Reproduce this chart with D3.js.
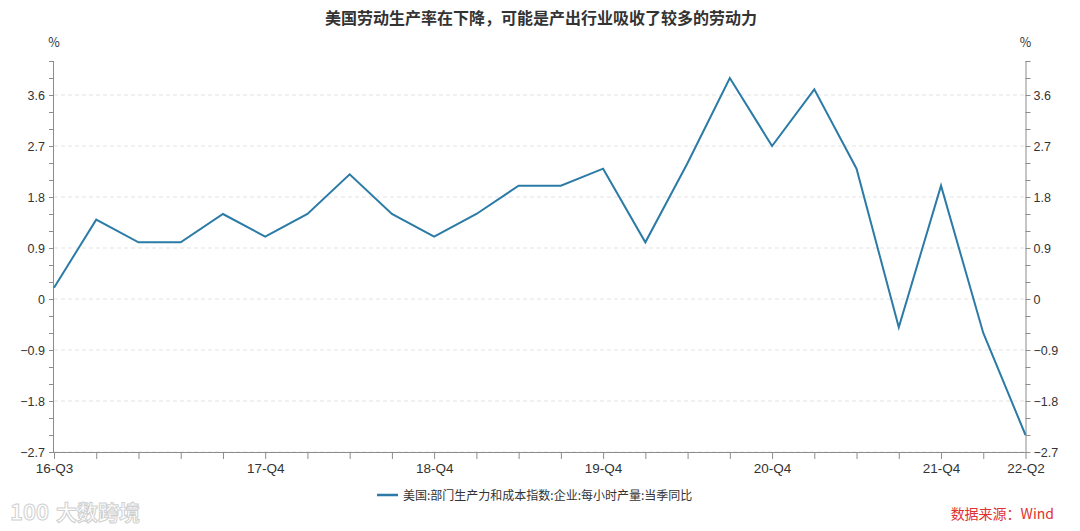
<!DOCTYPE html>
<html><head><meta charset="utf-8">
<script src="https://cdn.jsdelivr.net/npm/d3@7/dist/d3.min.js"></script>
<style>
body{margin:0;background:#fff;}
svg{display:block;font-family:"Noto Sans CJK SC","Noto Sans",sans-serif;}
</style></head>
<body><svg id="c" width="1080" height="531"></svg>
<script>
const quarters = ["16-Q3","16-Q4","17-Q1","17-Q2","17-Q3","17-Q4","18-Q1","18-Q2","18-Q3","18-Q4","19-Q1","19-Q2","19-Q3","19-Q4","20-Q1","20-Q2","20-Q3","20-Q4","21-Q1","21-Q2","21-Q3","21-Q4","22-Q1","22-Q2"];
const values = [0.2,1.4,1.0,1.0,1.5,1.1,1.5,2.2,1.5,1.1,1.5,2.0,2.0,2.3,1.0,2.4,3.9,2.7,3.7,2.3,-0.5,2.0,-0.6,-2.4];
const xLabels = ["16-Q3","17-Q4","18-Q4","19-Q4","20-Q4","21-Q4","22-Q2"];
const yMajor = [-2.7,-1.8,-0.9,0,0.9,1.8,2.7,3.6];
const yMinor = [-2.7,-2.4,-2.1,-1.8,-1.5,-1.2,-0.9,-0.6,-0.3,0,0.3,0.6,0.9,1.2,1.5,1.8,2.1,2.4,2.7,3.0,3.3,3.6,3.9,4.2];
const yDomain = [-2.7, 4.2];
const title = "美国劳动生产率在下降，可能是产出行业吸收了较多的劳动力";
const seriesName = "美国:部门生产力和成本指数:企业:每小时产量:当季同比";
const source = "数据来源：Wind";

const svg = d3.select("#c");
const L = 54, R = 1025.5, T = 61, B = 452;
const x = d3.scalePoint().domain(quarters).range([L, R]);
const y = d3.scaleLinear().domain(yDomain).range([B, T]);
const fmt = v => (Math.abs(v) < 1e-9 ? "0" : d3.format(".1f")(v));
const axisColor = "#8c8c8c", textColor = "#333";

// gridlines
svg.append("g").selectAll("line").data(yMajor).join("line")
  .attr("x1", L).attr("x2", R).attr("y1", d => y(d)).attr("y2", d => y(d))
  .attr("stroke", "#e3e3e3").attr("stroke-dasharray", "4,3").attr("stroke-width", 1);

function styleAxis(g){
  g.selectAll(".domain").attr("stroke", axisColor);
  g.selectAll(".tick line").attr("stroke", axisColor);
  g.selectAll(".tick text").attr("fill", textColor).style("font-size", "12.5px");
}

const isMajor = d => yMajor.some(m => Math.abs(m - d) < 1e-9);
const leftAx = svg.append("g").attr("transform", `translate(${L},0)`)
  .call(d3.axisLeft(y).tickValues(yMinor).tickSize(5).tickPadding(4)
    .tickFormat(d => isMajor(d) ? fmt(d) : ""));
styleAxis(leftAx);
leftAx.select(".domain").attr("d", `M-0.5,${T}V${B}`);
const rightAx = svg.append("g").attr("transform", `translate(${R},0)`)
  .call(d3.axisRight(y).tickValues(yMinor).tickSize(5).tickPadding(3)
    .tickFormat(d => isMajor(d) ? fmt(d) : ""));
styleAxis(rightAx);
rightAx.select(".domain").attr("d", `M0.5,${T}V${B}`);

const bottomAx = svg.append("g").attr("transform", `translate(0,${B})`)
  .call(d3.axisBottom(x).tickSize(7).tickPadding(4)
    .tickFormat(d => xLabels.includes(d) ? d : ""));
styleAxis(bottomAx);
bottomAx.selectAll(".tick text").style("font-size", "13.5px");
bottomAx.select(".domain").attr("d", `M${L},0.5H${R}`);

// units
svg.append("text").attr("x", L).attr("y", 47).attr("text-anchor", "middle")
  .attr("fill", textColor).style("font-size", "12.5px").text("%");
svg.append("text").attr("x", R).attr("y", 47).attr("text-anchor", "middle")
  .attr("fill", textColor).style("font-size", "12.5px").text("%");

// line
const lineColor = "#2b7ba6";
svg.append("path").datum(values)
  .attr("fill", "none").attr("stroke", lineColor).attr("stroke-width", 2)
  .attr("stroke-linejoin", "miter")
  .attr("d", d3.line().x((d, i) => x(quarters[i])).y(d => y(d)));

// title
svg.append("text").attr("x", 541).attr("y", 24).attr("text-anchor", "middle")
  .attr("fill", "#333").style("font-size", "16px").style("font-weight", "bold").text(title);

// legend
svg.append("line").attr("x1", 377).attr("x2", 398).attr("y1", 495).attr("y2", 495)
  .attr("stroke", lineColor).attr("stroke-width", 2.5);
svg.append("text").attr("x", 403).attr("y", 499.5).attr("fill", textColor)
  .style("font-size", "12px").text(seriesName);

// source
svg.append("text").attr("x", 1054).attr("y", 519).attr("text-anchor", "end")
  .attr("fill", "#e0312f").style("font-size", "14px").text(source);

// watermark
svg.append("text").attr("x", 10).attr("y", 520).attr("fill", "#fff").attr("stroke", "#d0d0d0")
  .attr("stroke-width", 1).style("font-size", "22px").style("font-weight", "bold").text("100");
svg.append("text").attr("x", 56).attr("y", 520).attr("fill", "#fff").attr("stroke", "#d0d0d0")
  .attr("stroke-width", 1).style("font-size", "21px").style("font-weight", "bold").text("大数跨境");
</script></body></html>
